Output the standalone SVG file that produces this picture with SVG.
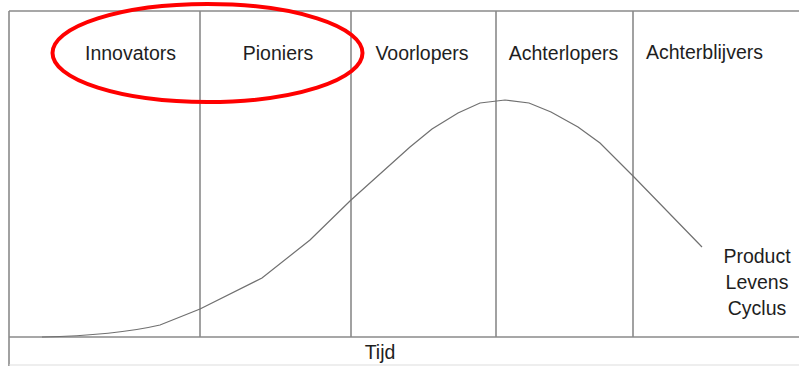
<svg xmlns="http://www.w3.org/2000/svg" width="799" height="366" viewBox="0 0 799 366">
<style>
.frame{stroke:#8a8a8a;stroke-width:1.6;fill:none}
.lbl{font-family:"Liberation Sans",Arial,sans-serif;font-size:19.5px;fill:#1e1e1e;text-anchor:middle}
</style>
<rect width="799" height="366" fill="#fff"/>
<g id="frame">
<path class="frame" d="M9,11 H799 M9,11 V366 M9,337 H799 M200,11 V337 M351,11 V337 M496,11 V337 M633,11 V337"/>
<path d="M9,365 H799" stroke="#ddd" stroke-width="1"/>
</g>
<g id="connectors">
<path id="curve" d="M42,337 C90,336 130,332 160,325 L200,309 L262,278 L310,240 L351,200 L410,147 L432,129 L458,113 L480,103 L505,100 L529,103 L551,112 L578,127 L600,143 L634,177 L702,247" fill="none" stroke="#707070" stroke-width="1.2"/>
</g>
<g id="n-innovators"><text class="lbl" x="130.5" y="60">Innovators</text></g>
<g id="n-pioniers"><text class="lbl" x="278" y="60">Pioniers</text></g>
<g id="n-voorlopers"><text class="lbl" x="422" y="60">Voorlopers</text></g>
<g id="n-achterlopers"><text class="lbl" x="563.5" y="60">Achterlopers</text></g>
<g id="n-achterblijvers"><text class="lbl" x="704.5" y="59">Achterblijvers</text></g>
<g id="n-plc"><text class="lbl" x="757" y="263">Product</text><text class="lbl" x="757" y="289">Levens</text><text class="lbl" x="757" y="315">Cyclus</text></g>
<g id="n-tijd"><text class="lbl" x="380" y="359">Tijd</text></g>
<g id="highlight"><ellipse cx="207.5" cy="53" rx="155" ry="49" fill="none" stroke="#f00" stroke-width="4"/></g>
</svg>
